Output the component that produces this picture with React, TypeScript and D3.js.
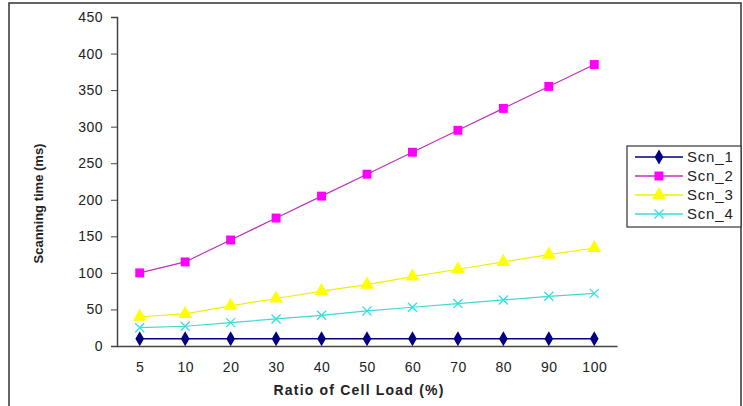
import React, { useEffect, useRef } from "react";
import * as d3 from "d3";

const categories = ["5", "10", "20", "30", "40", "50", "60", "70", "80", "90", "100"];
const scn1 = [10, 10, 10, 10, 10, 10, 10, 10, 10, 10, 10];
const scn2 = [100, 115, 145, 175, 205, 235, 265, 295, 325, 355, 385];
const scn3 = [40, 44, 55, 65, 75, 84, 95, 105, 115, 125, 134];
const scn4 = [25, 27, 32, 37, 42, 48, 53, 58, 63, 68, 72];
const seriesNames = ["Scn_1", "Scn_2", "Scn_3", "Scn_4"];
const seriesColors = ["#000080", "#FF00FF", "#FFFF00", "#33E0E0"];
const lineColors = ["#000080", "#C030C0", "#F0F000", "#40D8D8"];
const yTicks = [0, 50, 100, 150, 200, 250, 300, 350, 400, 450];

export default function App() {
  const ref = useRef<SVGSVGElement>(null);
  useEffect(() => {
    const svg = d3.select(ref.current);
    svg.selectAll("*").remove();
    const W = 743, H = 406;
    const left = 117, right = 617, top = 17, bottom = 346;
    const font = "Arial, 'Liberation Sans', sans-serif";

    svg.append("rect").attr("x", 0).attr("y", 0).attr("width", W).attr("height", H).attr("fill", "#fff");
    svg.append("rect").attr("x", 9).attr("y", 3).attr("width", 732).attr("height", 420)
      .attr("fill", "none").attr("stroke", "#333").attr("stroke-width", 1.5);

    const x = d3.scalePoint<string>().domain(categories).range([left, right]).padding(0.5);
    const y = d3.scaleLinear().domain([0, 450]).range([bottom, top]);

    // y axis
    const yAxis = d3.axisLeft(y).tickValues(yTicks).tickSize(6).tickPadding(8);
    const gy = svg.append("g").attr("transform", `translate(${left},0)`).call(yAxis);
    gy.select(".domain").attr("stroke", "#444").attr("stroke-width", 1.5);
    gy.selectAll(".tick line").attr("stroke", "#444");
    gy.selectAll(".tick text").attr("font-family", font).attr("font-size", 14).attr("fill", "#222")
      .attr("letter-spacing", 0.5);

    // x axis
    const xAxis = d3.axisBottom(x).tickSize(0).tickPadding(16);
    const gx = svg.append("g").attr("transform", `translate(0,${bottom})`).call(xAxis);
    gx.select(".domain").attr("stroke", "#444").attr("stroke-width", 1.5);
    gx.selectAll(".tick text").attr("font-family", font).attr("font-size", 14).attr("fill", "#222")
      .attr("letter-spacing", 0.5);

    svg.append("text").attr("x", 359).attr("y", 395).attr("text-anchor", "middle")
      .attr("font-family", font).attr("font-size", 14).attr("font-weight", "bold").attr("fill", "#222")
      .attr("letter-spacing", 1.2)
      .text("Ratio of Cell Load (%)");
    svg.append("text").attr("transform", `translate(43,${(top + bottom) / 2 + 22}) rotate(-90)`)
      .attr("text-anchor", "middle")
      .attr("font-family", font).attr("font-size", 13).attr("font-weight", "bold").attr("fill", "#222")
      .text("Scanning time (ms)");

    const data = [scn1, scn2, scn3, scn4];
    const line = d3.line<number>().x((_, i) => x(categories[i])!).y(d => y(d));
    const symbols = [d3.symbolDiamond, d3.symbolSquare, d3.symbolTriangle, d3.symbolX];
    const sizes = [65, 80, 85, 55];

    const drawMarker = (g: any, k: number, cx: number, cy: number) => {
      const p = d3.symbol().type(symbols[k]).size(sizes[k])();
      const m = g.append("path").attr("d", p).attr("transform", `translate(${cx},${cy})`);
      if (k === 3) m.attr("fill", "none").attr("stroke", seriesColors[k]).attr("stroke-width", 1.3);
      else m.attr("fill", seriesColors[k]);
    };

    data.forEach((vals, k) => {
      const g = svg.append("g");
      g.append("path").attr("d", line(vals)).attr("fill", "none")
        .attr("stroke", lineColors[k]).attr("stroke-width", k === 0 ? 1.6 : 1.2);
      vals.forEach((v, i) => drawMarker(g, k, x(categories[i])!, y(v)));
    });

    // legend
    const lx = 627, ly = 146;
    svg.append("rect").attr("x", lx).attr("y", ly).attr("width", 114).attr("height", 81)
      .attr("fill", "#fff").attr("stroke", "#333").attr("stroke-width", 1.2);
    seriesNames.forEach((name, k) => {
      const cy = ly + 11 + k * 19;
      const g = svg.append("g");
      g.append("line").attr("x1", lx + 8).attr("x2", lx + 56).attr("y1", cy).attr("y2", cy)
        .attr("stroke", lineColors[k]).attr("stroke-width", 1.3);
      drawMarker(g, k, lx + 32, cy);
      g.append("text").attr("x", lx + 60).attr("y", cy + 5).attr("font-family", font)
        .attr("font-size", 15).attr("fill", "#222").attr("letter-spacing", 0.8).text(name);
    });
  }, []);
  return (
    <svg ref={ref} width={743} height={406}
      style={{ position: "absolute", left: 0, top: 0, display: "block" }} />
  );
}
